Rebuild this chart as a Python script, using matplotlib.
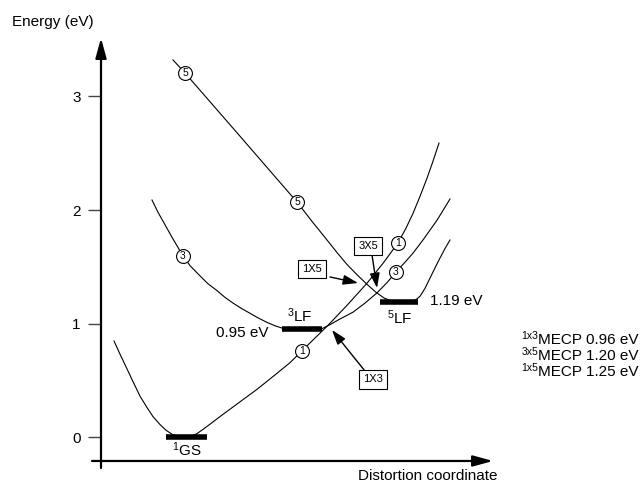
import numpy as np
import matplotlib
matplotlib.use("Agg")
import matplotlib.pyplot as plt

plt.rcParams['font.family'] = ['Liberation Sans', 'DejaVu Sans']
plt.rcParams['mathtext.fontset'] = 'custom'
plt.rcParams['mathtext.rm'] = 'Liberation Sans'

# distortion coordinate (arbitrary units) and energy (eV)
singlet_x = [114, 120, 127, 134, 140, 147, 153, 160, 166, 172, 178, 184, 190, 197, 205, 214, 223,
             240, 257, 274, 290, 302, 313, 327, 347, 367, 383, 398, 406, 413, 420, 427, 433, 439]
singlet_e = [0.846, 0.73, 0.60, 0.47, 0.36, 0.26, 0.18, 0.11, 0.06, 0.025, 0.005, 0.0, 0.005, 0.03,
             0.08, 0.14, 0.20, 0.31, 0.42, 0.54, 0.655, 0.76, 0.855, 0.975, 1.16, 1.355, 1.53, 1.71,
             1.84, 1.97, 2.12, 2.28, 2.43, 2.59]

triplet_x = [152, 158, 165, 172, 178, 183, 190, 200, 208, 217, 225, 233, 242, 250, 258, 267, 275,
             282, 302, 322, 330, 340, 353, 365, 377, 387, 396, 405, 413, 423, 437, 450]
triplet_e = [2.088, 1.98, 1.87, 1.76, 1.67, 1.595, 1.51, 1.42, 1.35, 1.29, 1.23, 1.18, 1.13, 1.09,
             1.05, 1.01, 0.98, 0.96, 0.95, 0.955, 0.99, 1.04, 1.10, 1.18, 1.27, 1.36, 1.454, 1.54,
             1.62, 1.736, 1.91, 2.097]

quintet_x = [173, 185, 241, 297, 312, 327, 337, 347, 357, 367, 376, 384, 391, 399, 406, 412,
             416, 420, 425, 430, 435, 440, 445, 450]
quintet_e = [3.322, 3.207, 2.64, 2.07, 1.90, 1.736, 1.625, 1.52, 1.43, 1.345, 1.275, 1.225, 1.20,
             1.19, 1.19, 1.195, 1.21, 1.24, 1.31, 1.40, 1.49, 1.577, 1.66, 1.736]

# minima (x from, x to, energy)
minima_x0 = [166, 282, 380]
minima_x1 = [207, 322, 418]
minima_e = [0.0, 0.95, 1.19]

# circled multiplicity labels
circle_labels = ['5', '5', '3', '3', '1', '1']
circle_x = [185, 297, 183, 396, 302, 398]
circle_e = [3.207, 2.070, 1.595, 1.454, 0.760, 1.710]

# crossing boxes: label, box centre, arrow tail, arrow tip
cross_labels = ['1X5', '3X5', '1X3']
cross_box_x = [312, 368, 373]
cross_box_e = [1.480, 1.683, 0.507]
cross_tail_x = [330, 372, 365]
cross_tail_e = [1.410, 1.604, 0.581]
cross_tip_x = [358, 377, 332]
cross_tip_e = [1.357, 1.313, 0.943]

mecp_sup = ['1x3', '3x5', '1x5']
mecp_text = ['MECP 0.96 eV', 'MECP 1.20 eV', 'MECP 1.25 eV']
mecp_e = [0.855, 0.714, 0.573]

fig = plt.figure(figsize=(6.42, 4.83), dpi=100)
ax = fig.add_axes([0, 0, 1, 1])
ax.set_xlim(0, 642)
ax.set_ylim(-0.405, 3.850)
for s in ax.spines.values():
    s.set_visible(False)
ax.spines['left'].set_position(('data', 101))
ax.set_xticks([])
ax.set_yticks([0, 1, 2, 3])
ax.tick_params(axis='y', direction='out', length=9.5, width=1.0, color='#444444',
               pad=5, labelsize=11)
ax.patch.set_alpha(0)

# axes with arrow heads
ax.annotate('', xy=(101, 3.515), xytext=(101, -0.273),
            arrowprops=dict(arrowstyle='-|>,head_length=0.8,head_width=0.22', lw=1.6,
                            color='k', shrinkA=0, shrinkB=0, mutation_scale=15))
ax.annotate('', xy=(493, -0.211), xytext=(92, -0.211),
            arrowprops=dict(arrowstyle='-|>,head_length=0.8,head_width=0.22', lw=1.6,
                            color='k', shrinkA=0, shrinkB=0, mutation_scale=15))

for xs, es in [(singlet_x, singlet_e), (triplet_x, triplet_e), (quintet_x, quintet_e)]:
    ax.plot(xs, es, color='k', lw=0.8, solid_joinstyle='round', zorder=2)

for x0, x1, e in zip(minima_x0, minima_x1, minima_e):
    ax.plot([x0, x1], [e, e], color='k', lw=4.0, solid_capstyle='butt', zorder=3)

ax.plot(circle_x, circle_e, 'o', ms=10, mfc='white', mec='k', mew=0.8, zorder=4)
for lab, x, e in zip(circle_labels, circle_x, circle_e):
    ax.text(x, e, lab, ha='center', va='center', fontsize=7.5, zorder=5)

for lab, bx, be, tx, te, px, pe in zip(cross_labels, cross_box_x, cross_box_e,
                                       cross_tail_x, cross_tail_e, cross_tip_x, cross_tip_e):
    ax.text(bx, be, lab, ha='center', va='center', fontsize=8, zorder=5,
            bbox=dict(boxstyle='square,pad=0.4', fc='white', ec='k', lw=0.8))
    ax.annotate('', xy=(px, pe), xytext=(tx, te),
                arrowprops=dict(arrowstyle='-|>,head_length=0.9,head_width=0.3', lw=1.0,
                                color='k', shrinkA=0, shrinkB=0, mutation_scale=10))

ax.text(187, -0.115, r'$\mathregular{^1}$GS', ha='center', va='center', fontsize=11)
ax.text(300, 1.066, r'$\mathregular{^3}$LF', ha='center', va='center', fontsize=11)
ax.text(400, 1.048, r'$\mathregular{^5}$LF', ha='center', va='center', fontsize=11)
ax.text(268, 0.916, '0.95 eV', ha='right', va='center', fontsize=11)
ax.text(430, 1.198, '1.19 eV', ha='left', va='center', fontsize=11)

# MECP list: main text right-aligned, small superscript placed before it
renderer = fig.canvas.get_renderer()
for sup, txt, e in zip(mecp_sup, mecp_text, mecp_e):
    t = ax.text(639, e, txt, ha='right', va='center', fontsize=11)
    bb = t.get_window_extent(renderer)
    x_left, _ = ax.transData.inverted().transform((bb.x0, bb.y0))
    ax.text(x_left, e + 0.035, sup, ha='right', va='center', fontsize=7.5)

ax.text(12, 3.656, 'Energy (eV)', ha='left', va='center', fontsize=11)
ax.text(497, -0.344, 'Distortion coordinate', ha='right', va='center', fontsize=11)

fig.savefig('out.png', dpi=100)
